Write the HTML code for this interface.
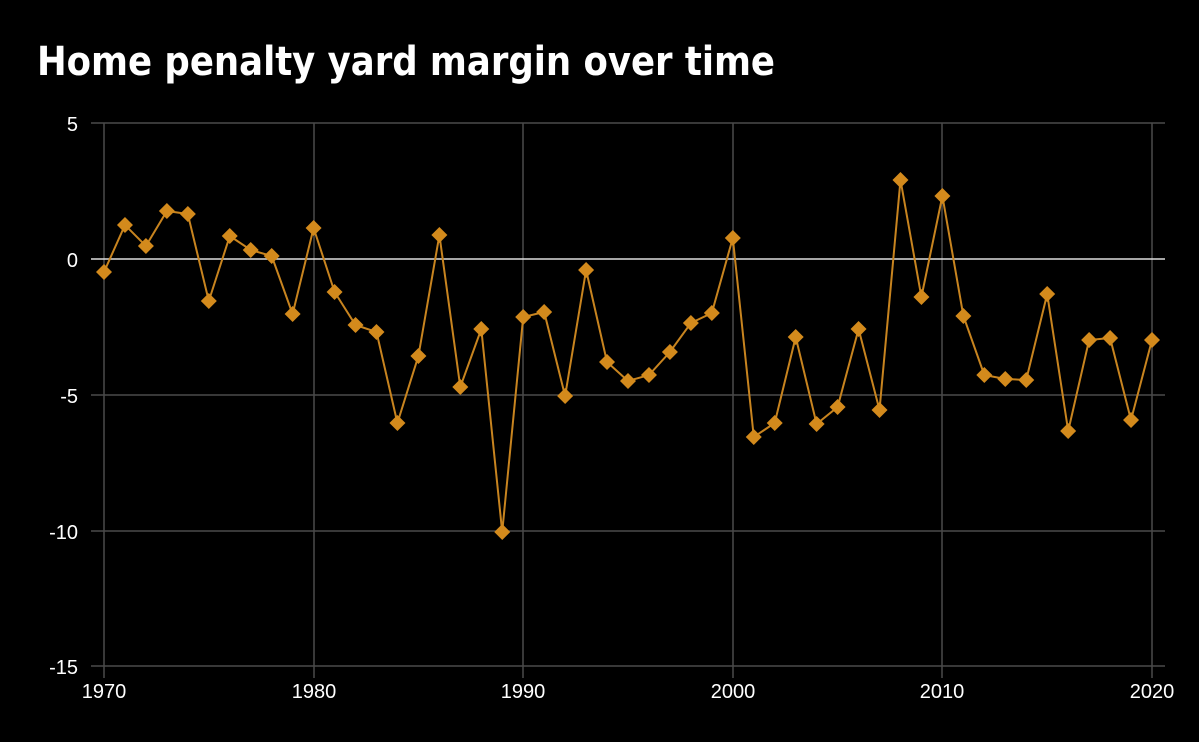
<!DOCTYPE html>
<html><head><style>
html,body{margin:0;padding:0;background:#000;}
</style></head><body>
<svg width="1199" height="742" xmlns="http://www.w3.org/2000/svg" style="display:block">
<rect width="1199" height="742" fill="#000"/>
<text x="37" y="75" fill="#fff" font-family="'DejaVu Sans Condensed','DejaVu Sans','Liberation Sans',sans-serif" font-size="40" font-weight="bold" textLength="738" lengthAdjust="spacingAndGlyphs">Home penalty yard margin over time</text>
<g stroke="#4a4a4a" stroke-width="1.5">
<line x1="91" y1="123" x2="1165" y2="123"/>
<line x1="91" y1="395" x2="1165" y2="395"/>
<line x1="91" y1="531" x2="1165" y2="531"/>
<line x1="91" y1="666" x2="1165" y2="666"/>
<line x1="104" y1="123" x2="104" y2="678"/>
<line x1="314" y1="123" x2="314" y2="678"/>
<line x1="523" y1="123" x2="523" y2="678"/>
<line x1="733" y1="123" x2="733" y2="678"/>
<line x1="942" y1="123" x2="942" y2="678"/>
<line x1="1152" y1="123" x2="1152" y2="678"/>
</g>
<line x1="91" y1="259" x2="1165" y2="259" stroke="#ddd" stroke-width="1.5"/>
<g fill="#fff" font-family="'Liberation Sans',sans-serif" font-size="20" text-anchor="end">
<text x="78" y="131">5</text><text x="78" y="267">0</text><text x="78" y="403">-5</text><text x="78" y="539">-10</text><text x="78" y="674">-15</text>
</g>
<g fill="#fff" font-family="'Liberation Sans',sans-serif" font-size="20" text-anchor="middle">
<text x="104" y="698">1970</text><text x="314" y="698">1980</text><text x="523" y="698">1990</text><text x="733" y="698">2000</text><text x="942" y="698">2010</text><text x="1152" y="698">2020</text>
</g>
<g id="s"></g>
<script>
var ys=[272,225,246,211,214,301,236,250,256,314,228,292,325,332,423,356,235,387,329,532,317,312,396,270,362,381,375,352,323,313,238,437,423,337,424,407,329,410,180,297,196,316,375,379,380,294,431,340,338,420,340];
var ns="http://www.w3.org/2000/svg",g=document.getElementById('s'),pts=[];
ys.forEach(function(y,i){pts.push((104+i*20.96).toFixed(1)+','+y);});
var pl=document.createElementNS(ns,'polyline');pl.setAttribute('points',pts.join(' '));pl.setAttribute('fill','none');pl.setAttribute('stroke','#c8841f');pl.setAttribute('stroke-width','2');g.appendChild(pl);
ys.forEach(function(y,i){var x=104+i*20.96,p=document.createElementNS(ns,'polygon');p.setAttribute('points',x+','+(y-8)+' '+(x+8)+','+y+' '+x+','+(y+8)+' '+(x-8)+','+y);p.setAttribute('fill','#d38a1c');g.appendChild(p);});
</script>
</svg>
</body></html>
